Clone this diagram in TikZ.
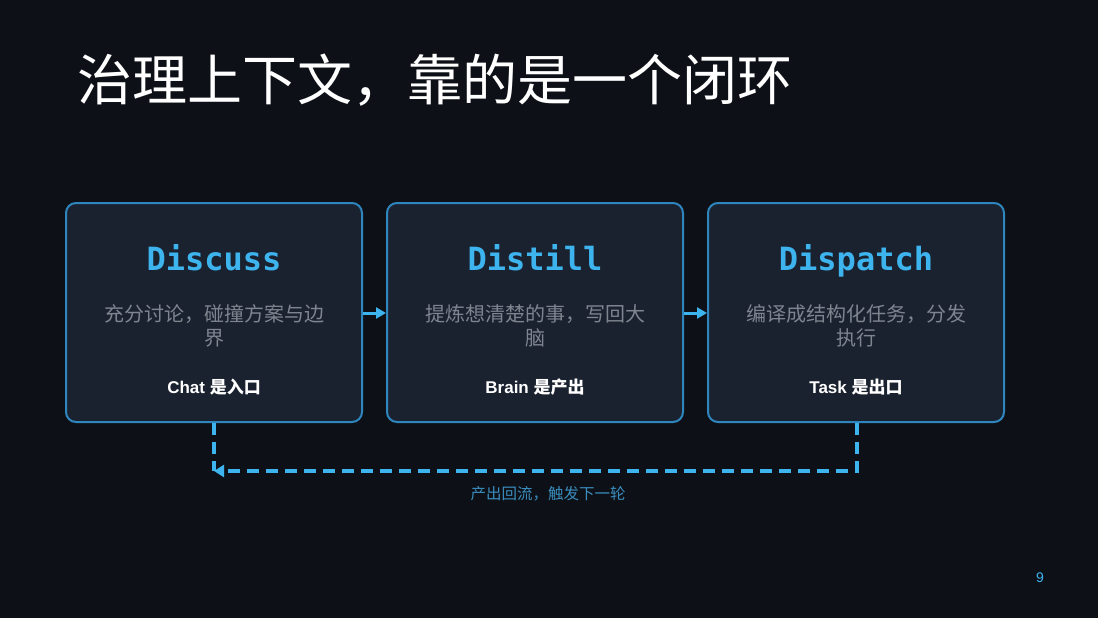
\documentclass[tikz,border=0pt]{standalone}
\usepackage{fontspec}
\setmainfont{Liberation Sans}
\setmonofont{DejaVu Sans Mono}
\newfontfamily\cjk{Noto Sans CJK SC}
\usepackage{xcolor}
\usetikzlibrary{arrows.meta,positioning,calc}
\definecolor{pagebg}{HTML}{0D1117}
\definecolor{cardfill}{HTML}{1A2230}
\definecolor{cardline}{HTML}{2F86BE}
\definecolor{accent}{HTML}{3DB4EE}
\definecolor{muted}{HTML}{7E858F}
\definecolor{loopnote}{HTML}{3A8DBE}

\begin{document}
\begin{tikzpicture}[x=1pt,y=-1pt,
    card/.style={draw=cardline, line width=2pt, fill=cardfill, rounded corners=10pt,
      minimum width=296pt, minimum height=219pt, inner sep=0pt},
    cardhead/.style={text=accent, text height=24pt, text depth=0pt,
      font=\fontsize{32}{36}\selectfont\ttfamily\bfseries},
    carddesc/.style={text=muted, align=center,
      font=\fontsize{20}{24}\selectfont\cjk},
    cardfoot/.style={text=white, font=\fontsize{17}{20}\selectfont\bfseries},
    flow/.style={draw=accent, line width=3pt, -{Triangle[length=10pt,width=11pt]}},
    backflow/.style={draw=accent, line width=3.2pt, dash pattern=on 12pt off 7pt}
  ]
  % background and frame
  \fill[pagebg] (0,0) rectangle (1098,618);

  \node[anchor=west, text=white, font=\fontsize{55}{60}\selectfont\cjk] (title) at (74,80)
    {治理上下文，靠的是一个闭环};

  % three stages
  \node[card] (discuss) at (214,312.5) {};
  \node[card] (distill) at (535,312.5) {};
  \node[card] (dispatch) at (856,312.5) {};

  \node[cardhead] (discussHead) at (214,258) {Discuss};
  \node[cardhead] (distillHead) at (535,258) {Distill};
  \node[cardhead] (dispatchHead) at (856,258) {Dispatch};

  \node[carddesc] (discussDesc) at (214,326) {充分讨论，碰撞方案与边\\界};
  \node[carddesc] (distillDesc) at (535,326) {提炼想清楚的事，写回大\\脑};
  \node[carddesc] (dispatchDesc) at (856,326) {编译成结构化任务，分发\\执行};

  \node[cardfoot] (discussFoot) at (214,387) {Chat {\cjk 是入口}};
  \node[cardfoot] (distillFoot) at (535,387) {Brain {\cjk 是产出}};
  \node[cardfoot] (dispatchFoot) at (856,387) {Task {\cjk 是出口}};

  % forward arrows
  \draw[flow] (discuss.east |- 0,313) -- (distill.west |- 0,313);
  \draw[flow] (distill.east |- 0,313) -- (dispatch.west |- 0,313);

  % loop back
  \coordinate (loopL) at (214,471);
  \coordinate (loopR) at (857,471);
  \draw[backflow] (discuss.south) -- (loopL);
  \draw[backflow, -{Triangle[length=10pt,width=12pt]}] (dispatch.south -| loopR) -- (loopR) -- (loopL);
  \node[text=loopnote, font=\fontsize{15.5}{18}\selectfont\cjk] (loopNote) at (548,494)
    {产出回流，触发下一轮};

  \node[text=accent, font=\fontsize{14}{16}\selectfont] (pageNo) at (1040,578) {9};
\end{tikzpicture}
\end{document}
